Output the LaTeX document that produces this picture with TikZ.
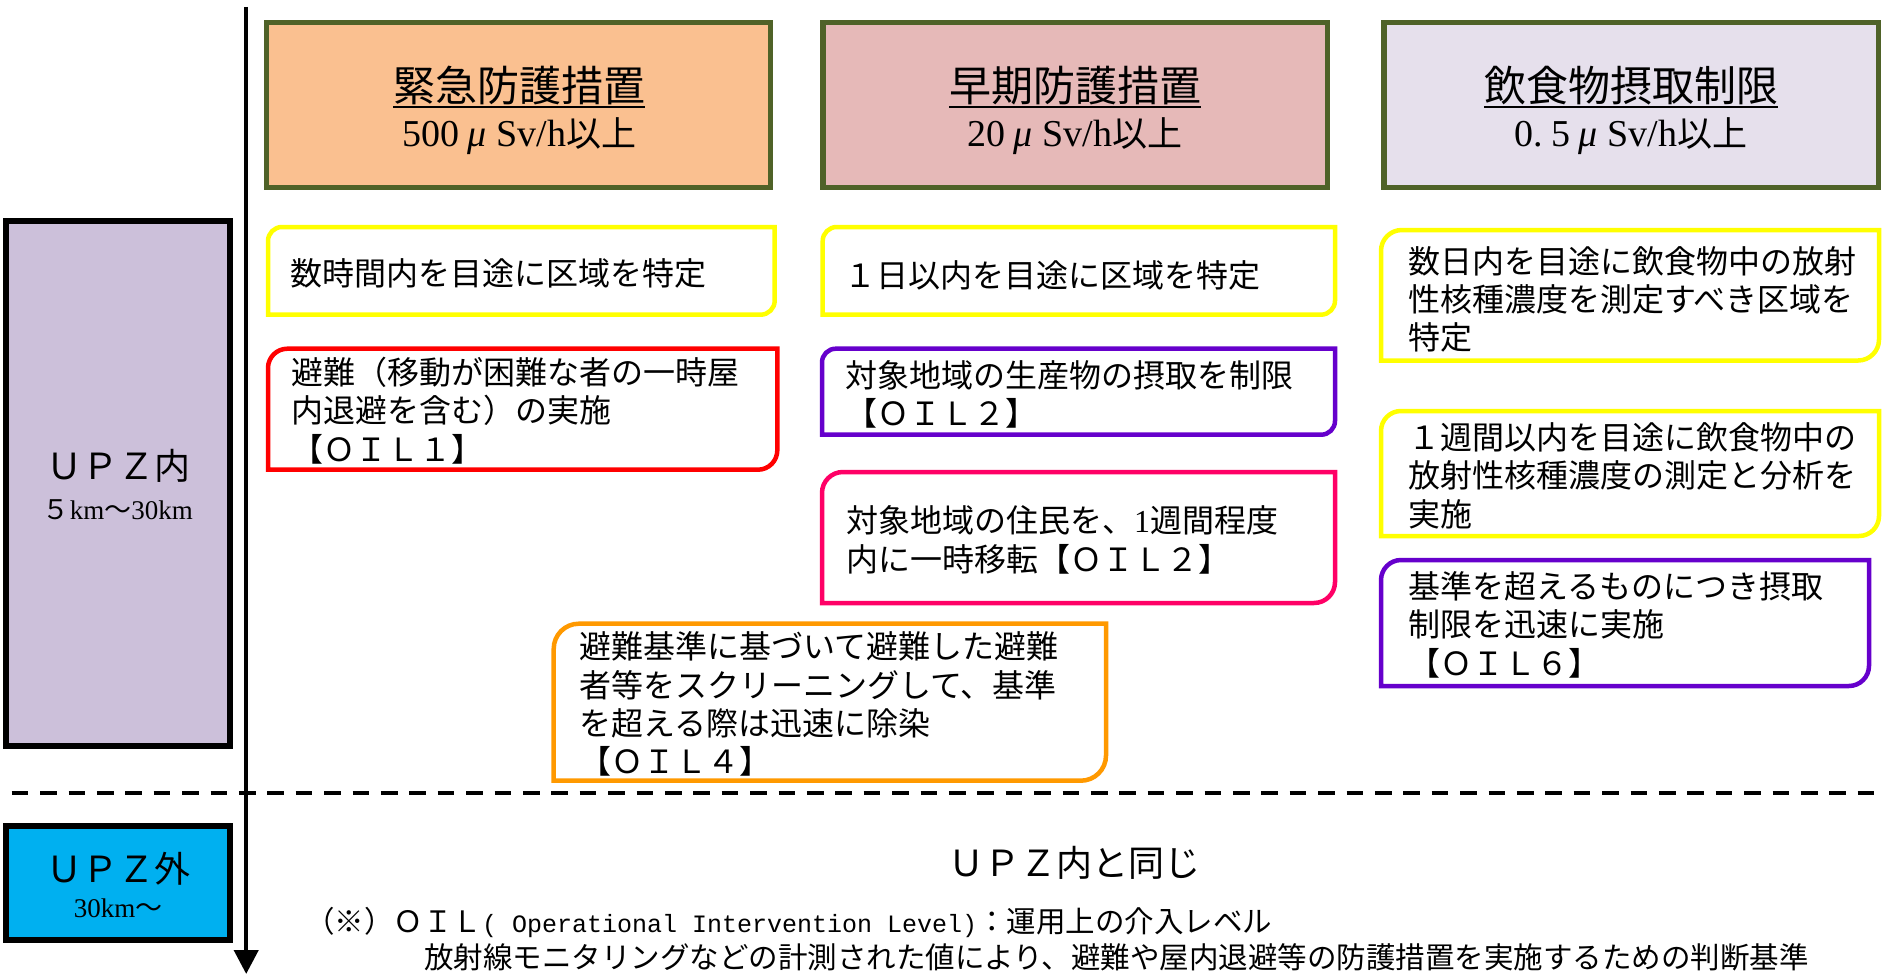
\documentclass[tikz,border=0pt]{standalone}
\usepackage{fontspec}
\setmainfont{Noto Sans CJK JP}
\newfontfamily\lat{Liberation Serif}
\newfontfamily\mon{Liberation Mono}
\usetikzlibrary{arrows.meta}
\definecolor{olivebd}{HTML}{4F6228}
\definecolor{fillA}{HTML}{FAC090}
\definecolor{fillB}{HTML}{E6B9B8}
\definecolor{fillC}{HTML}{E6E0EC}
\definecolor{upzin}{HTML}{CCC0DA}
\definecolor{upzout}{HTML}{00B0F0}
\definecolor{cyel}{HTML}{FFFF00}
\definecolor{cred}{HTML}{FF0000}
\definecolor{cpur}{HTML}{6600CC}
\definecolor{cpink}{HTML}{FF0066}
\definecolor{corg}{HTML}{FF9900}
\newcommand\fst{\rule{0pt}{1em}}
\newcommand\mymicro{{\lat\itshape\fontsize{38}{44}\selectfont μ}}
\newcommand\mysubtxt[1]{{\lat\fontsize{38}{44}\selectfont #1}}
\tikzset{
  hdrbox/.style={draw=olivebd, line width=5.5pt, inner sep=0pt, outer sep=0pt},
  zonebox/.style={draw=black, line width=5.5pt, inner sep=0pt, outer sep=0pt},
  shapebox/.style={inner sep=0pt, outer sep=0pt, draw=none},
  rline/.style={line width=4.5pt},
  htitle/.style={inner sep=0pt, outer sep=0pt, anchor=base, font=\fontsize{42}{50}\selectfont},
  hsub/.style={inner sep=0pt, outer sep=0pt, anchor=base, font=\fontsize{35}{40}\selectfont},
  uline/.style={line width=2.5pt},
  body/.style={inner sep=0pt, outer sep=0pt, anchor=north west, align=left, font=\fontsize{32}{38.3}\selectfont},
  oneline/.style={inner sep=0pt, outer sep=0pt, anchor=base west, font=\fontsize{32}{38.3}\selectfont},
  zonetxt/.style={inner sep=0pt, outer sep=0pt, anchor=base, font=\fontsize{36}{42}\selectfont},
  zonesub/.style={inner sep=0pt, outer sep=0pt, anchor=base, font=\fontsize{27}{32}\selectfont},
  note/.style={inner sep=0pt, outer sep=0pt, anchor=base west, font=\fontsize{29.5}{36}\selectfont},
  axisline/.style={line width=4.3pt, -{Triangle[width=24pt,length=24pt]}},
  sepline/.style={line width=4pt, dash pattern=on 16.7pt off 11.7pt},
}
% diagonal-rounded box: name, x1, y1, x2, y2, colour
\newcommand\dbox[6]{%
  \pgfmathsetmacro\rr{0.16*min(#4-#2,#5-#3)}%
  \node[shapebox, minimum width={(#4-#2)*1pt}, minimum height={(#5-#3)*1pt}] (#1) at ({(#2+#4)/2},{(#3+#5)/2}) {};
  \draw[rline, draw=#6] (#1.south west) -- ([yshift=-\rr pt]#1.north west)
    arc[start angle=180, end angle=270, radius=\rr] -- (#1.north east)
    -- ([yshift=\rr pt]#1.south east) arc[start angle=0, end angle=90, radius=\rr] -- cycle;
}
\begin{document}
\begin{tikzpicture}[x=1pt,y=-1pt]
\useasboundingbox (0,0) rectangle (1883,974);
\fill[white] (0,0) rectangle (1883,974);

% separator
\coordinate (dl) at (11.7,793.3);
\coordinate (dr) at (1880,793.3);
\draw[sepline] (dl) -- (dr);

% header boxes
\node[hdrbox, fill=fillA, minimum width=504pt, minimum height=164.5pt] (hA) at (518.25,105) {};
\node[hdrbox, fill=fillB, minimum width=504.5pt, minimum height=164.5pt] (hB) at (1075,105) {};
\node[hdrbox, fill=fillC, minimum width=494.5pt, minimum height=164.5pt] (hC) at (1631,105) {};

\node[htitle] (tA) at (519.2,102) {緊急防護措置};
\node[htitle] (tB) at (1075,102) {早期防護措置};
\node[htitle] (tC) at (1631,102) {飲食物摂取制限};
\draw[uline] ([yshift=-5pt]tA.base west) -- ([yshift=-5pt]tA.base east);
\draw[uline] ([yshift=-5pt]tB.base west) -- ([yshift=-5pt]tB.base east);
\draw[uline] ([yshift=-5pt]tC.base west) -- ([yshift=-5pt]tC.base east);
\node[hsub] (sA) at (519.2,146.5) {\mysubtxt{500}\hspace{8pt}\mymicro\hspace{10pt}\mysubtxt{Sv/h}以上};
\node[hsub] (sB) at (1075,146.5) {\mysubtxt{20}\hspace{8pt}\mymicro\hspace{10pt}\mysubtxt{Sv/h}以上};
\node[hsub] (sC) at (1631,146.5) {\mysubtxt{0.\hspace{8pt}5}\hspace{8pt}\mymicro\hspace{10pt}\mysubtxt{Sv/h}以上};

% zone boxes
\node[zonebox, fill=upzin, minimum width=224pt, minimum height=525pt] (zin) at (117.8,483.3) {};
\node[zonebox, fill=upzout, minimum width=224pt, minimum height=114pt] (zout) at (117.8,882.8) {};
\node[zonetxt] (zinA) at (118,479.5) {ＵＰＺ内};
\node[zonesub] (zinB) at (118,519) {５{\lat km}～{\lat 30km}};
\node[zonetxt] (zoutA) at (118,882) {ＵＰＺ外};
\node[zonesub] (zoutB) at (118,917) {{\lat 30km}～};

% rounded boxes
\dbox{y1}{268}{227}{774.7}{314.7}{cyel}
\dbox{r1}{268}{348.7}{777.3}{469.7}{cred}
\dbox{y2}{822.7}{227}{1335}{314.7}{cyel}
\dbox{p2}{822}{348.7}{1335}{434.7}{cpur}
\dbox{k2}{822}{472}{1335}{603}{cpink}
\dbox{o1}{553.7}{623.7}{1106}{780.7}{corg}
\dbox{y3}{1381}{230}{1879}{360.5}{cyel}
\dbox{y4}{1381}{411}{1879}{536}{cyel}
\dbox{p3}{1381}{560}{1869}{686}{cpur}

% box texts
\node[oneline] (ty1) at (290,285) {数時間内を目途に区域を特定};
\node[body] (tr1) at (291,352.5) {\fst 避難（移動が困難な者の一時屋\\内退避を含む）の実施\\【ＯＩＬ１】};
\node[oneline] (ty2) at (844,287) {１日以内を目途に区域を特定};
\node[body] (tp2) at (845,355) {\fst 対象地域の生産物の摂取を制限\\【ＯＩＬ２】};
\node[body] (tk2) at (846,500.8) {\fst 対象地域の住民を、{\lat 1}週間程度\\内に一時移転【ＯＩＬ２】};
\node[body] (to1) at (579,626.9) {\fst 避難基準に基づいて避難した避難\\者等をスクリーニングして、基準\\を超える際は迅速に除染\\【ＯＩＬ４】};
\node[body] (ty3) at (1408,241.2) {\fst 数日内を目途に飲食物中の放射\\性核種濃度を測定すべき区域を\\特定};
\node[body] (ty4) at (1408,417.6) {\fst １週間以内を目途に飲食物中の\\放射性核種濃度の測定と分析を\\実施};
\node[body] (tp3) at (1408,566.5) {\fst 基準を超えるものにつき摂取\\制限を迅速に実施\\【ＯＩＬ６】};

% outside UPZ
\node[zonetxt] (same) at (1074,876) {ＵＰＺ内と同じ};

% footnote
\node[note] (n1) at (305,932) {（※）ＯＩＬ{\mon\fontsize{25}{30}\selectfont( Operational Intervention Level)}：運用上の介入レベル};
\node[note] (n2) at (424,968) {放射線モニタリングなどの計測された値により、避難や屋内退避等の防護措置を実施するための判断基準};

% axis arrow
\coordinate (atop) at (246.2,7);
\coordinate (abot) at (246.2,974);
\draw[axisline] (atop) -- (abot);
\end{tikzpicture}
\end{document}
